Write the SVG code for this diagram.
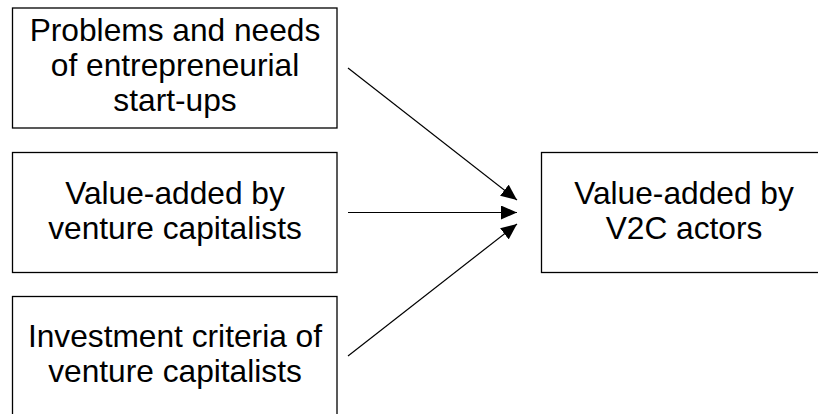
<svg xmlns="http://www.w3.org/2000/svg" width="818" height="414" viewBox="0 0 818 414">
<defs>
<marker id="ah" markerUnits="userSpaceOnUse" markerWidth="16" markerHeight="14" refX="16" refY="7" orient="auto">
<path d="M0,0 L16,7 L0,14 Z" fill="#000"/>
</marker>
<style>
.box{fill:#fff;stroke:#000;stroke-width:1.3}
.t{font-family:"Liberation Sans",Arial,sans-serif;font-size:31.7px;fill:#000;text-anchor:middle}
.c{stroke:#000;stroke-width:1.2;fill:none;marker-end:url(#ah)}
</style>
</defs>
<rect width="818" height="414" fill="#fff"/>
<g id="n1">
<rect class="box" x="12.5" y="8" width="324.5" height="120"/>
<text class="t" x="175" y="41">Problems and needs</text>
<text class="t" x="175" y="76">of entrepreneurial</text>
<text class="t" x="175" y="111">start-ups</text>
</g>
<g id="n2">
<rect class="box" x="12.5" y="152.5" width="324.5" height="120"/>
<text class="t" x="175" y="204">Value-added by</text>
<text class="t" x="175" y="239">venture capitalists</text>
</g>
<g id="n3">
<rect class="box" x="12.5" y="296.5" width="324.5" height="130"/>
<text class="t" x="175" y="347">Investment criteria of</text>
<text class="t" x="175" y="382">venture capitalists</text>
</g>
<g id="n4">
<rect class="box" x="541.5" y="152.5" width="290" height="120"/>
<text class="t" x="684" y="204">Value-added by</text>
<text class="t" x="684" y="239">V2C actors</text>
</g>
<g id="connectors">
<line class="c" x1="348" y1="68" x2="517" y2="200"/>
<line class="c" x1="348" y1="212.5" x2="517" y2="212.5"/>
<line class="c" x1="348" y1="356" x2="517" y2="224"/>
</g>
</svg>
